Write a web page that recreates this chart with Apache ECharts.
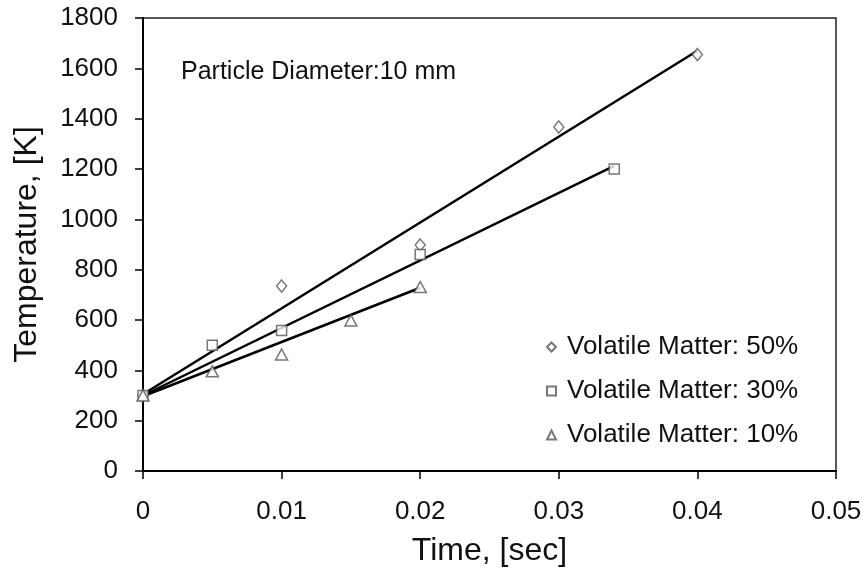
<!DOCTYPE html>
<html>
<head>
<meta charset="utf-8">
<script src="https://cdn.jsdelivr.net/npm/echarts@6/dist/echarts.min.js"></script>
<style>
  html, body { margin: 0; padding: 0; background: #fff; }
  #chart { width: 865px; height: 575px; }
</style>
</head>
<body>
<div id="chart"></div>
<script>
// measured points
const time50 = [0, 0.01, 0.02, 0.03, 0.04];
const temp50 = [300, 735, 898, 1367, 1655];
const time30 = [0, 0.005, 0.01, 0.02, 0.034];
const temp30 = [300, 500, 558, 860, 1200];
const time10 = [0, 0.005, 0.01, 0.015, 0.02];
const temp10 = [300, 396, 463, 598, 731];
// trend line end points
const fitTime50 = [0, 0.04];
const fitTemp50 = [305, 1670];
const fitTime30 = [0, 0.034];
const fitTemp30 = [300, 1212];
const fitTime10 = [0, 0.02];
const fitTemp10 = [297, 728];

const names = ['Volatile Matter: 50%', 'Volatile Matter: 30%', 'Volatile Matter: 10%'];

const pairs = (xs, ys) => xs.map((x, i) => [x, ys[i]]);
const font = 'Liberation Sans, Arial, sans-serif';

const markerStyle = { color: '#fff', borderColor: '#555', borderWidth: 1.5 };
const fitLine = (xs, ys) => ({
  type: 'line',
  data: pairs(xs, ys),
  showSymbol: false,
  symbol: 'none',
  silent: true,
  z: 2,
  lineStyle: { color: '#000', width: 2.5 }
});
const points = (name, symbol, size, xs, ys) => ({
  name: name,
  type: 'scatter',
  symbol: symbol,
  symbolSize: size,
  data: pairs(xs, ys),
  itemStyle: markerStyle,
  z: 3
});

let myChart = echarts.init(document.getElementById('chart'));
let option = {
  backgroundColor: '#fff',
  animation: false,
  grid: {
    left: 143, right: 29, top: 18, bottom: 104,
    show: true, borderColor: '#222', borderWidth: 1.5
  },
  graphic: [{
    type: 'text',
    left: 181,
    top: 60,
    style: { text: 'Particle Diameter:10 mm', font: '25px ' + font, fill: '#111' }
  }],
  legend: {
    orient: 'vertical',
    left: 541,
    top: 327,
    itemWidth: 9,
    itemHeight: 9,
    itemGap: 14,
    data: names,
    textStyle: { fontFamily: font, fontSize: 26, color: '#111', lineHeight: 30, padding: [0, 0, 0, 6] }
  },
  xAxis: {
    type: 'value',
    min: 0, max: 0.05, interval: 0.01,
    name: 'Time, [sec]',
    nameLocation: 'middle',
    nameGap: 64,
    nameTextStyle: { fontFamily: font, fontSize: 32, color: '#111' },
    axisLine: { lineStyle: { color: '#000', width: 2 } },
    axisTick: { show: true, length: 8, lineStyle: { color: '#000', width: 1.5 } },
    axisLabel: { fontFamily: font, fontSize: 26, color: '#111', margin: 28 },
    splitLine: { show: false }
  },
  yAxis: {
    type: 'value',
    min: 0, max: 1800, interval: 200,
    name: 'Temperature, [K]',
    nameLocation: 'middle',
    nameGap: 100,
    nameTextStyle: { fontFamily: font, fontSize: 32, color: '#111' },
    axisLine: { show: true, lineStyle: { color: '#000', width: 2 } },
    axisTick: { show: true, length: 8, lineStyle: { color: '#000', width: 1.5 } },
    axisLabel: { fontFamily: font, fontSize: 26, color: '#111', margin: 25, formatter: v => String(v) },
    splitLine: { show: false }
  },
  series: [
    fitLine(fitTime50, fitTemp50),
    fitLine(fitTime30, fitTemp30),
    fitLine(fitTime10, fitTemp10),
    points(names[0], 'diamond', [10, 12], time50, temp50),
    points(names[1], 'rect', 10, time30, temp30),
    points(names[2], 'triangle', [12, 11], time10, temp10)
  ]
};
myChart.setOption(option);
window.addEventListener('resize', () => myChart.resize());
</script>
</body>
</html>
